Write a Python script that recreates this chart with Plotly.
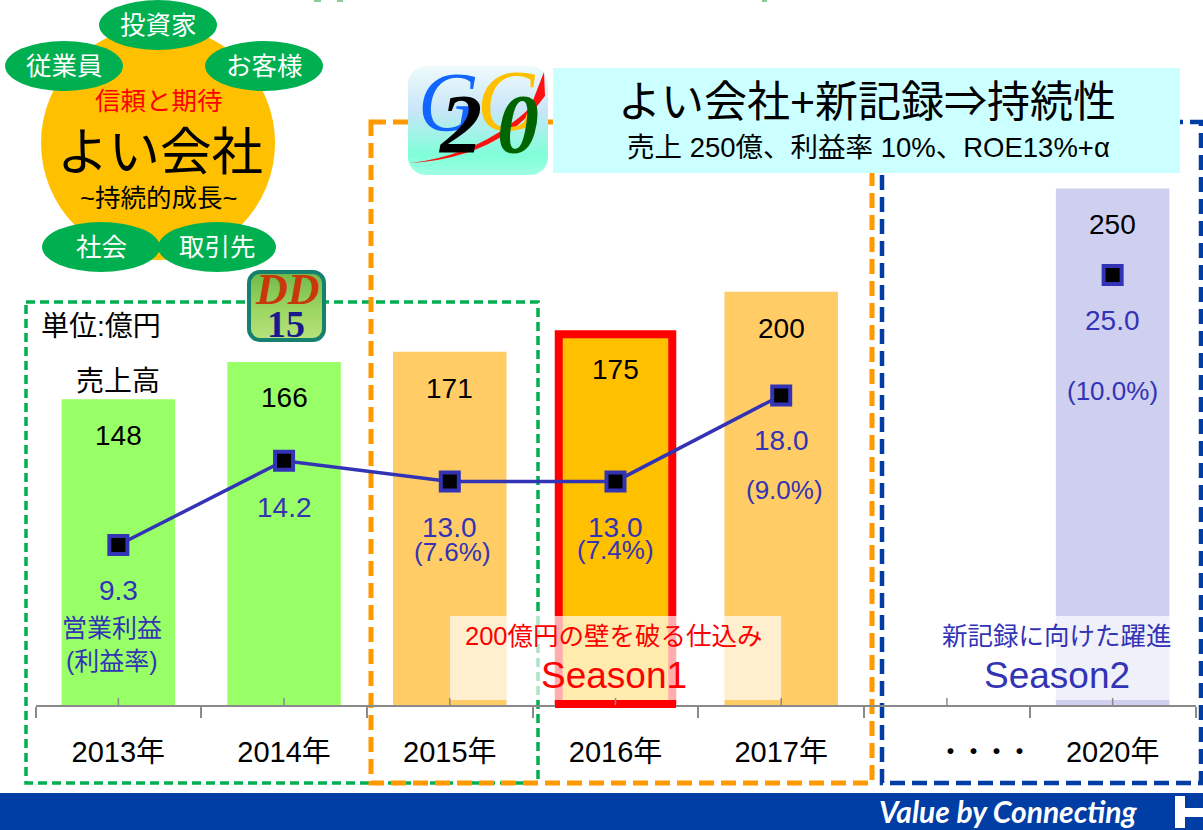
import base64
import plotly.graph_objects as go

# ---------- data ----------
years = ["2013年", "2014年", "2015年", "2016年", "2017年", "・・・・", "2020年"]
sales = [148, 166, 171, 175, 200, None, 250]
highlight_frame = [None, None, None, 179.5, None, None, None]
operating_profit = [9.3, 14.2, 13.0, 13.0, 18.0, None, 25.0]
margin_labels = [None, None, "(7.6%)", "(7.4%)", "(9.0%)", None, "(10.0%)"]
bar_colors = ["#99FF66", "#99FF66", "#FFCC66", "#FFC000", "#FFCC66", "#FFFFFF", "#CFCFF0"]

# ---------- layout helpers ----------
W, H = 1203, 830
AXIS_Y, LEFT, RIGHT = 705, 35.5, 1195.5
PX_PER_SALES, PX_PER_PROFIT = 2.066, 17.2
BLUE, NAVY, GREEN, ORANGE = "#3333B5", "#003DA5", "#00B050", "#FF9900"
FONT = "Liberation Sans, Noto Sans CJK JP, sans-serif"
SERIF = "Liberation Serif, serif"

px = lambda x: x / W
py = lambda y: 1 - y / H


def rect(x0, y0, x1, y1, fill=None, line=None, lw=0, dash=None, layer="above"):
    return dict(type="rect", xref="paper", yref="paper", x0=px(x0), x1=px(x1), y0=py(y0), y1=py(y1),
                fillcolor=fill or "rgba(0,0,0,0)", layer=layer,
                line=dict(color=line or "rgba(0,0,0,0)", width=lw, dash=dash or "solid"))


def oval(cx, cy, rx, ry, fill):
    return dict(type="circle", xref="paper", yref="paper", x0=px(cx - rx), x1=px(cx + rx),
                y0=py(cy + ry), y1=py(cy - ry), fillcolor=fill, line=dict(width=0), layer="above")


def txt(x, y, s, size, color="#000000", family=FONT, **kw):
    return dict(x=px(x), y=py(y), xref="paper", yref="paper", text=s, showarrow=False,
                font=dict(size=size, color=color, family=family),
                xanchor="center", yanchor="middle", **kw)


def cat_txt(cat, y, s, size, color="#000000", xshift=0):
    return dict(x=cat, y=py(y), xref="x", yref="paper", text=s, showarrow=False, xshift=xshift,
                font=dict(size=size, color=color, family=FONT), xanchor="center", yanchor="middle")


def icon(x, y, w, h, r, stops, stroke=None, sw=0):
    st = "".join(f'<stop offset="{o}" stop-color="{c}"/>' for o, c in stops)
    svg = (f'<svg xmlns="http://www.w3.org/2000/svg" width="{w}" height="{h}" viewBox="0 0 {w} {h}">'
           f'<defs><linearGradient id="g" x1="0" y1="0" x2="0" y2="1">{st}</linearGradient></defs>'
           f'<rect x="{sw/2}" y="{sw/2}" width="{w-sw}" height="{h-sw}" rx="{r}" ry="{r}" fill="url(#g)"'
           + (f' stroke="{stroke}" stroke-width="{sw}"' if sw else "") + '/></svg>')
    src = "data:image/svg+xml;base64," + base64.b64encode(svg.encode()).decode()
    return dict(source=src, xref="paper", yref="paper", x=px(x), y=py(y), sizex=w / W, sizey=h / H,
                xanchor="left", yanchor="top", sizing="stretch", layer="above")


fig = go.Figure()
fig.add_bar(x=years, y=sales, marker=dict(color=bar_colors, line=dict(width=0)), width=0.685,
            cliponaxis=False, showlegend=False)
fig.add_bar(x=years, y=highlight_frame, width=0.685, cliponaxis=False, showlegend=False,
            marker=dict(color="#FFC000", line=dict(color="#FF0000", width=8)))
fig.add_scatter(x=years, y=operating_profit, yaxis="y2", mode="lines+markers", cliponaxis=False,
                showlegend=False, connectgaps=False, line=dict(color=BLUE, width=3.5),
                marker=dict(symbol="square", size=18, color="#000000", line=dict(color=BLUE, width=4)))

shapes = [
    # dashed season frames (under the marks)
    rect(26, 302, 538, 783, line=GREEN, lw=3.5, dash="9px,5px", layer="below"),
    rect(371, 122, 872, 783, line=ORANGE, lw=5, dash="15px,7px", layer="below"),
    rect(882, 122, 1201, 783, line=NAVY, lw=4.5, dash="15px,7px", layer="below"),
    # footer
    rect(0, 793, W, H, fill=NAVY),
    rect(1175, 796, 1185, 828, fill="#FFFFFF"),
    rect(1185, 808, W, 817, fill="#FFFFFF"),
    # translucent season boxes
    rect(450, 616, 781, 700, fill="rgba(255,255,255,0.68)"),
    rect(890, 616, 1196, 700, fill="rgba(255,255,255,0.68)"),
    # foot of the red highlight frame
    rect(555, 700, 676, 708, fill="#FF0000"),
    # title box
    rect(553, 68, 1180, 173, fill="#CCFFFF"),
    # stakeholder graphic
    oval(158, 143, 117, 117, "#FFC000"),
    oval(158, 25, 59, 25, GREEN),
    oval(64, 66, 59, 25, GREEN),
    oval(264, 66, 59, 25, GREEN),
    oval(101, 247, 59, 25, GREEN),
    oval(217, 247, 59, 25, GREEN),
    # red swoosh of the GO20 icon
    dict(type="path", xref="paper", yref="paper", layer="above", fillcolor="#FF1010", line=dict(width=0),
         path=(f"M {px(410)} {py(163)} Q {px(480)} {py(155)} {px(530)} {py(108)} L {px(544)} {py(72)} "
               f"L {px(545)} {py(96)} Q {px(500)} {py(158)} {px(410)} {py(163)} Z")),
    # clipped headline remnants at the top edge
    rect(314, 0, 321, 2, fill="#8CCB94"),
    rect(337, 0, 343, 2, fill="#8CCB94"),
    rect(762, 0, 767, 2, fill="#8CCB94"),
]
# short tick marks rising from the axis at each category centre
for c in years:
    shapes.append(dict(type="line", xref="x", yref="y", x0=c, x1=c, y0=0, y1=7 / PX_PER_SALES, layer="above",
                       line=dict(color="#8A8A8A", width=1.5)))

images = [
    icon(408, 66, 140, 109, 18, [(0, "#EFFBFB"), (0.4, "#C9E6F8"), (0.82, "#7FFFD8"), (1, "#A0FFE4")]),
    icon(247, 270, 79, 72, 11, [(0, "#6FB94A"), (0.55, "#9CD660"), (1, "#B8E27E")], stroke="#16806F", sw=4),
]

sales_label_y = [435, 398, 388, 369, 328, None, 224]
profit_label_y = [590, 507, 527, 527, 440, None, 320]
margin_label_y = [None, None, 552, 550, 490, None, 391]
margin_shift = [0, 0, 3, 0, 3, 0, 0]

ann = []
for cat, val, y in zip(years, sales, sales_label_y):
    if val is not None:
        ann.append(cat_txt(cat, y, str(val), 28))
for cat, val, y in zip(years, operating_profit, profit_label_y):
    if val is not None:
        ann.append(cat_txt(cat, y, f"{val:.1f}", 28, BLUE))
for cat, m, y, s in zip(years, margin_labels, margin_label_y, margin_shift):
    if m is not None:
        ann.append(cat_txt(cat, y, m, 26, BLUE, xshift=s))

# the dotted label sits off-centre in the reference
tick_text = [" " if c == "・・・・" else c for c in years]

ann += [
    cat_txt("・・・・", 752, "<b>・・・・</b>", 23, xshift=38),
    txt(118, 381, "売上高", 28),
    txt(101, 326, "単位:億円", 28),
    txt(112, 628, "営業利益", 25, BLUE),
    txt(112, 661, "(利益率)", 25, BLUE),
    txt(158, 25, "投資家", 25.5, "#FFFFFF"),
    txt(64, 66, "従業員", 25.5, "#FFFFFF"),
    txt(264, 66, "お客様", 25.5, "#FFFFFF"),
    txt(101, 247, "社会", 25.5, "#FFFFFF"),
    txt(217, 247, "取引先", 25.5, "#FFFFFF"),
    txt(159, 101, "信頼と期待", 25.5, "#FF0000"),
    txt(160, 152, "よい会社", 51.5),
    txt(158, 198, "~持続的成長~", 25.5),
    txt(867, 102, "よい会社+新記録⇒持続性", 43),
    txt(868, 148, "売上 250億、利益率 10%、ROE13%+α", 27.5),
    txt(614, 636, "200億円の壁を破る仕込み", 25.5, "#FF0000"),
    txt(614, 675, "Season1", 37, "#FF0000"),
    txt(1057, 636, "新記録に向けた躍進", 25.5, BLUE),
    txt(1057, 675, "Season2", 37, BLUE),
    # icon lettering, bottom layer first
    txt(448, 102, "<i>G</i>", 84, "#1166FF", SERIF),
    txt(460, 125, "<b><i>2</i></b>", 84, "#000000", SERIF),
    txt(506, 101, "<i>C</i>", 86, "#FFC000", SERIF),
    txt(518, 125, "<b><i>0</i></b>", 84, "#006400", SERIF),
    txt(287, 289, "<b><i>DD</i></b>", 44, "#C8380A", SERIF),
    txt(286, 324, "<b>15</b>", 38, "#1A1A8C", SERIF),
    txt(1008, 811, "<b><i>Value by Connecting</i></b>", 30, "#FFFFFF", "Lato, sans-serif"),
]

fig.update_layout(
    width=W, height=H, autosize=False, margin=dict(l=0, r=0, t=0, b=0, autoexpand=False),
    paper_bgcolor="#FFFFFF", plot_bgcolor="rgba(0,0,0,0)", barmode="overlay",
    font=dict(family=FONT), shapes=shapes, images=images, annotations=ann,
    xaxis=dict(domain=[px(LEFT), px(RIGHT)], type="category", categoryorder="array", categoryarray=years,
               tickmode="array", tickvals=years, ticktext=tick_text,
               range=[-0.5, 6.5], tickson="boundaries", ticks="outside", ticklen=11, tickwidth=1.5, tickcolor="#8A8A8A",
               showline=True, linecolor="#8A8A8A", linewidth=1.5, showgrid=False, zeroline=False,
               ticklabelstandoff=20, tickfont=dict(size=29, color="#000000", family=FONT), fixedrange=True),
    yaxis=dict(domain=[py(AXIS_Y), 1], range=[0, AXIS_Y / PX_PER_SALES], visible=False, fixedrange=True),
    yaxis2=dict(domain=[py(AXIS_Y), 1], range=[0, AXIS_Y / PX_PER_PROFIT], visible=False, overlaying="y",
                fixedrange=True),
)

fig.write_html("out.html", config={"displayModeBar": False},
               post_script="document.body.style.margin='0';document.body.style.overflow='hidden';")
